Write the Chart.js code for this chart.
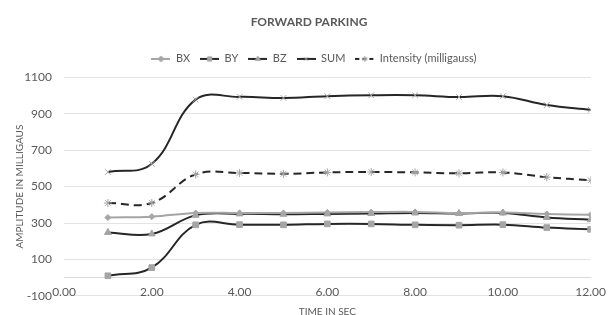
<!DOCTYPE html>
<html>
<head>
<meta charset="utf-8">
<script src="https://cdn.jsdelivr.net/npm/chart.js@4/dist/chart.umd.min.js"></script>
<style>
  html, body { margin: 0; padding: 0; background: #fff; }
  #wrap { width: 613px; height: 315px; }
</style>
</head>
<body>
<div id="wrap"><canvas id="c" width="613" height="315"></canvas></div>
<script>
const timeSec = [1, 2, 3, 4, 5, 6, 7, 8, 9, 10, 11, 12]
const bx = [330, 335, 355, 355, 355, 358, 360, 361, 355, 358, 350, 345]
const by = [10, 55, 290, 291, 290, 295, 295, 290, 288, 291, 275, 265]
const bz = [248, 240, 342, 350, 348, 350, 352, 355, 352, 355, 330, 318]
const sum = [580, 625, 978, 993, 987, 997, 1002, 1002, 992, 997, 948, 922]
const intensity = [410, 410, 567, 575, 570, 578, 580, 578, 573, 578, 552, 535]
const xTicks = [0, 2, 4, 6, 8, 10, 12]
const yTicks = [-100, 100, 300, 500, 700, 900, 1100]

const DARK = '#262626'
const GREY = '#a5a5a5'
const TEXT = '#595959'
const FONT = 'Lato, "Open Sans", sans-serif'

function points(ys) {
  return timeSec.map((t, i) => ({ x: t, y: ys[i] }))
}

// little line+marker icon, like the excel legend
function legendIcon(lineColor, marker, dash) {
  const c = document.createElement('canvas')
  c.width = 19
  c.height = 10
  const g = c.getContext('2d')
  g.strokeStyle = lineColor
  g.lineWidth = 2
  if (dash) g.setLineDash([4, 3])
  g.beginPath()
  g.moveTo(0, 5)
  g.lineTo(19, 5)
  g.stroke()
  g.setLineDash([])
  g.fillStyle = GREY
  g.strokeStyle = GREY
  g.lineWidth = 1
  Chart.helpers.drawPoint(g, { pointStyle: marker, radius: 3, borderWidth: 1 }, 9.5, 5)
  return c
}

function series(label, ys, color, marker, radius, dash) {
  return {
    label,
    data: points(ys),
    showLine: true,
    borderColor: color,
    backgroundColor: GREY,
    borderWidth: 2,
    borderDash: dash ? [8, 5] : [],
    tension: 0.4,
    pointStyle: marker,
    pointRadius: radius,
    pointBorderColor: GREY,
    pointBackgroundColor: GREY,
    pointBorderWidth: 1,
    legendIcon: { color, marker, dash },
  }
}

const datasets = [
  series('BX', bx, GREY, 'rectRot', 3),
  series('BY', by, DARK, 'rect', 4),
  series('BZ', bz, DARK, 'triangle', 4),
  series('SUM', sum, DARK, 'crossRot', 4),
  series('Intensity (milligauss)', intensity, DARK, 'star', 4, true),
]

// excel centres title and legend a bit to the right of ours,
// and leaves a little more room under the legend
const nudge = {
  id: 'nudge',
  afterInit(chart) {
    const legend = chart.legend
    const fit = legend.fit
    legend.fit = function () {
      fit.call(this)
      this.height += 3
    }
  },
  afterLayout(chart) {
    chart.titleBlock.left += 9
    chart.titleBlock.right += 9
    chart.legend.left += 14
    chart.legend.right += 14
  },
}

new Chart(document.getElementById('c'), {
  type: 'scatter',
  data: { datasets },
  plugins: [nudge],
  options: {
    responsive: false,
    animation: false,
    layout: { padding: { left: 0, right: 13, top: 2, bottom: 18 } },
    plugins: {
      title: {
        display: true,
        text: 'FORWARD PARKING',
        color: TEXT,
        font: { family: FONT, size: 12, weight: 'bold' },
        padding: { top: 13, bottom: 14 },
      },
      legend: {
        position: 'top',
        labels: {
          color: TEXT,
          font: { family: FONT, size: 11 },
          usePointStyle: true,
          pointStyleWidth: 19,
          padding: 10,
          generateLabels(chart) {
            return chart.data.datasets.map((ds, i) => ({
              text: ds.label,
              fontColor: TEXT,
              pointStyle: legendIcon(ds.legendIcon.color, ds.legendIcon.marker, ds.legendIcon.dash),
              lineWidth: 0,
              strokeStyle: 'transparent',
              fillStyle: 'transparent',
              hidden: false,
              datasetIndex: i,
            }))
          },
        },
      },
      tooltip: { enabled: false },
    },
    scales: {
      x: {
        type: 'linear',
        position: { y: 0 },
        min: 0,
        max: 12,
        afterBuildTicks(scale) {
          scale.ticks = xTicks.map(v => ({ value: v }))
        },
        grid: { display: false, drawTicks: false },
        border: { display: true, color: '#d9d9d9', width: 1 },
        ticks: {
          color: TEXT,
          font: { family: FONT, size: 12 },
          padding: 7,
          maxRotation: 0,
          callback: v => v.toFixed(2),
        },
        title: {
          display: true,
          text: 'TIME IN SEC',
          color: TEXT,
          font: { family: FONT, size: 10 },
          padding: { top: 0, bottom: 0 },
        },
      },
      y: {
        min: -100,
        max: 1100,
        afterBuildTicks(scale) {
          scale.ticks = yTicks.map(v => ({ value: v }))
        },
        afterFit(scale) {
          scale.width = 64
        },
        grid: { color: '#e3e3e3', drawTicks: false },
        border: { display: false },
        ticks: {
          color: TEXT,
          font: { family: FONT, size: 12 },
          padding: 12,
          callback: v => String(v),
        },
        title: {
          display: true,
          text: 'AMPLITUDE IN MILLIGAUS',
          color: TEXT,
          font: { family: FONT, size: 10 },
          padding: { top: 14, bottom: 0 },
        },
      },
    },
  },
})
</script>
</body>
</html>
